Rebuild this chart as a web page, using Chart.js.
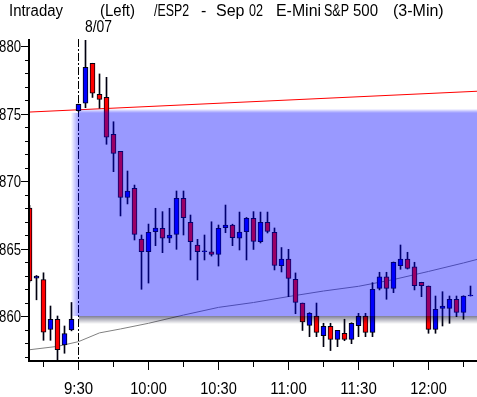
<!DOCTYPE html>
<html>
<head>
<meta charset="utf-8">
<script src="https://cdn.jsdelivr.net/npm/chart.js@4.4.1/dist/chart.umd.min.js"></script>
<style>
  html, body { margin: 0; padding: 0; background: #fff; }
  canvas { display: block; }
</style>
</head>
<body>
<canvas id="chart" width="477" height="397"></canvas>
<script>
// 3-minute bars (pre-open bars first, then the 8/07 session from 9:30)
const times = [
  '9:09', '9:12', '9:15', '9:18', '9:21', '9:24', '9:27',
  '9:30', '9:33', '9:36', '9:39', '9:42', '9:45', '9:48', '9:51', '9:54', '9:57',
  '10:00', '10:03', '10:06', '10:09', '10:12', '10:15', '10:18', '10:21', '10:24', '10:27',
  '10:30', '10:33', '10:36', '10:39', '10:42', '10:45', '10:48', '10:51', '10:54', '10:57',
  '11:00', '11:03', '11:06', '11:09', '11:12', '11:15', '11:18', '11:21', '11:24', '11:27',
  '11:30', '11:33', '11:36', '11:39', '11:42', '11:45', '11:48', '11:51', '11:54', '11:57',
  '12:00', '12:03', '12:06', '12:09', '12:12', '12:15', '12:18'
];
const opens = [
  868.0, 862.8, 862.7, 859.0, 859.75, 857.85, 858.96,
  875.21, 875.76, 878.72, 876.42, 876.2, 873.46, 872.19, 868.78, 869.46, 865.7,
  864.76, 866.24, 866.5, 865.76, 866.05, 868.72, 866.94, 865.26, 864.76, 864.76,
  864.57, 866.54, 866.74, 865.76, 866.24, 867.24, 865.5, 866.94, 866.2, 863.73,
  864.22, 862.72, 860.96, 859.3, 860.0, 858.54, 859.24, 858.27, 858.72, 858.27,
  859.28, 860.0, 858.79, 862.05, 862.91, 862.05, 863.73, 864.22, 863.65, 862.5,
  862.22, 859.01, 860.57, 860.57, 861.24, 860.27, 861.48
];
const highs = [
  868.2, 863.0, 863.2, 860.74, 860.0, 859.26, 861.0,
  875.7, 880.5, 878.72, 877.93, 877.68, 874.39, 872.19, 870.74, 869.7, 866.0,
  866.81, 867.98, 867.73, 867.98, 869.26, 869.26, 867.48, 865.68, 866.0, 866.98,
  866.74, 868.22, 866.8, 867.7, 867.3, 867.73, 867.7, 867.7, 866.52, 865.07,
  864.94, 863.19, 860.96, 860.25, 860.96, 859.46, 859.46, 858.94, 859.76, 859.5,
  860.2, 860.2, 862.47, 863.24, 863.24, 864.0, 865.26, 864.72, 863.98, 862.5,
  862.22, 861.48, 861.8, 861.48, 861.48, 861.5, 862.22
];
const lows = [
  862.5, 861.2, 858.2, 858.2, 856.74, 857.24, 858.9,
  875.15, 875.43, 876.19, 875.39, 872.72, 870.69, 867.41, 868.3, 865.63, 861.98,
  862.44, 865.21, 864.69, 865.43, 864.94, 866.0, 864.15, 862.67, 864.15, 864.44,
  863.7, 866.17, 865.21, 864.89, 864.15, 864.93, 865.41, 866.15, 863.41, 863.26,
  861.43, 860.17, 858.93, 858.47, 858.47, 857.73, 857.44, 857.73, 858.17, 857.95,
  858.47, 858.47, 858.47, 861.93, 861.24, 861.73, 863.46, 863.48, 861.93, 861.43,
  858.72, 858.72, 859.26, 859.46, 859.95, 859.76, 861.48
];
const closes = [
  862.6, 862.95, 858.8, 859.75, 857.5, 858.7, 859.76,
  875.68, 878.42, 876.5, 876.05, 873.24, 872.05, 868.78, 869.26, 866.05, 864.76,
  866.19, 866.52, 865.76, 866.0, 868.72, 867.28, 865.5, 864.76, 864.76, 864.57,
  866.5, 866.74, 865.8, 866.22, 867.24, 865.53, 866.94, 866.26, 863.74, 864.22,
  862.79, 861.01, 859.56, 860.2, 858.79, 859.24, 858.27, 858.94, 858.27, 859.46,
  860.0, 858.79, 861.98, 862.91, 862.05, 863.98, 864.22, 863.53, 862.24, 862.24,
  859.01, 860.5, 860.74, 861.24, 860.27, 861.48, 861.48
];

// grey average line
const avgTimes = ['9:08', '9:21', '9:30', '9:39', '9:48', '10:00', '10:15', '10:30',
  '10:45', '11:00', '11:15', '11:30', '11:45', '12:00', '12:15', '12:21'];
const avgValues = [857.48, 857.75, 858.1, 858.75, 859.04, 859.46, 860.07, 860.64,
  861.0, 861.44, 861.85, 862.2, 862.7, 863.3, 863.93, 864.2];

// red trend line
const trendTimes = ['9:08', '12:21'];
const trendValues = [875.1, 876.65];

// shaded zone
const zoneStart = '9:28';
const zoneHigh = 875.05;
const zoneLow = 860.0;

// axes
const yTicks = [860, 865, 870, 875, 880];
const xTickLabels = ['9:30', '10:00', '10:30', '11:00', '11:30', '12:00'];
const xMinorTicks = ['9:15', '9:45', '10:15', '10:45', '11:15', '11:45', '12:15'];
const sessionOpen = '9:30';
const sessionDate = '8/07';

// header pieces: text, left x, width
const header = [
  ['Intraday', 9, 54], ['(Left)', 100, 35], ['/ESP2', 154, 35], ['-', 201, 10],
  ['Sep', 216, 29], ['02', 249, 14], ['E-Mini', 276, 45], ['S&P', 324, 25],
  ['500', 353, 25], ['(3-Min)', 393, 52]
];

const FONT = "16px 'Liberation Sans', Arimo, sans-serif";
const CHAR_W = 7.3; // the original labels use a narrow face

function toMin(s) {
  const [h, m] = s.split(':').map(Number);
  return h * 60 + m;
}

// Draw axes, header, zone and session marker
const overlay = {
  id: 'overlay',
  beforeDatasetsDraw(chart) {
    const { ctx, chartArea: a, scales: { x } } = chart;
    const px = Math.floor(x.getPixelForValue(toMin(sessionOpen))) + 0.5;
    ctx.save();
    ctx.strokeStyle = '#000';
    ctx.lineWidth = 1;
    ctx.setLineDash([8, 2, 2, 2]);
    ctx.beginPath();
    ctx.moveTo(px, a.top - 1);
    ctx.lineTo(px, a.bottom);
    ctx.stroke();
    ctx.restore();
  },
  afterDatasetsDraw(chart) {
    const { ctx, chartArea: a, scales: { x, y } } = chart;
    const x0 = x.getPixelForValue(toMin(zoneStart));
    const xs = x0 + 5;
    const yt = y.getPixelForValue(zoneHigh);
    const yb = Math.round(y.getPixelForValue(zoneLow));
    const fade = 4;
    ctx.save();
    ctx.beginPath();
    ctx.rect(a.left, a.top, a.right - a.left, a.bottom - a.top);
    ctx.clip();
    const blue = 'rgba(0,0,255,0.4)';
    // solid part
    ctx.fillStyle = blue;
    ctx.fillRect(xs, yt, a.right - xs, yb - yt);
    // soft left edge
    let g = ctx.createLinearGradient(x0 - 3, 0, xs, 0);
    g.addColorStop(0, 'rgba(0,0,255,0)');
    g.addColorStop(1, blue);
    ctx.fillStyle = g;
    ctx.fillRect(x0 - 3, yt, xs - x0 + 3, yb - yt);
    // soft top edge
    g = ctx.createLinearGradient(0, yt - fade, 0, yt);
    g.addColorStop(0, 'rgba(0,0,255,0)');
    g.addColorStop(1, blue);
    ctx.fillStyle = g;
    ctx.fillRect(xs, yt - fade, a.right - xs, fade);
    // shadow under the zone
    g = ctx.createLinearGradient(0, yb, 0, yb + 8);
    g.addColorStop(0, 'rgba(0,0,40,0.5)');
    g.addColorStop(1, 'rgba(0,0,40,0)');
    ctx.fillStyle = g;
    ctx.fillRect(xs, yb, a.right - xs, 8);
    ctx.restore();
  },
  afterDraw(chart) {
    const { ctx, chartArea: a, scales: { x, y } } = chart;
    ctx.save();
    ctx.fillStyle = '#000';
    ctx.strokeStyle = '#000';
    ctx.lineWidth = 1;
    // axis lines
    ctx.fillRect(a.left - 2, a.top - 1, 2, a.bottom - a.top + 3);
    ctx.fillRect(a.left - 2, a.bottom, a.right - a.left + 2, 2);

    ctx.font = FONT;
    // y ticks, one per point, labels every 5
    ctx.textAlign = 'right';
    ctx.textBaseline = 'middle';
    for (let v = Math.ceil(y.min); v <= Math.floor(y.max); v++) {
      const py = Math.round(y.getPixelForValue(v)) + 0.5;
      const major = yTicks.includes(v);
      ctx.beginPath();
      ctx.moveTo(major ? a.left - 9 : a.left - 5, py);
      ctx.lineTo(a.left - 2, py);
      ctx.stroke();
      if (major) {
        const s = String(v);
        ctx.fillText(s, a.left - 9, py + 1, s.length * CHAR_W);
      }
    }

    // x ticks
    ctx.textAlign = 'center';
    ctx.textBaseline = 'alphabetic';
    xMinorTicks.forEach(t => {
      const px = Math.floor(x.getPixelForValue(toMin(t))) + 0.5;
      if (px < a.left || px > a.right) return;
      ctx.beginPath();
      ctx.moveTo(px, a.bottom + 2);
      ctx.lineTo(px, a.bottom + 7);
      ctx.stroke();
    });
    xTickLabels.forEach(t => {
      const px = Math.floor(x.getPixelForValue(toMin(t))) + 0.5;
      ctx.beginPath();
      ctx.moveTo(px, a.bottom + 2);
      ctx.lineTo(px, a.bottom + 10);
      ctx.stroke();
      ctx.fillText(t, px, a.bottom + 34, t.length * CHAR_W);
    });

    // header
    ctx.textAlign = 'left';
    header.forEach(([txt, hx, w]) => ctx.fillText(txt, hx, 16, w));
    ctx.fillText(sessionDate, x.getPixelForValue(toMin(sessionOpen)) + 6.5, 32, 27);
    ctx.restore();
  }
};

document.addEventListener('DOMContentLoaded', () => {
  const ctx = document.getElementById('chart').getContext('2d');
  new Chart(ctx, {
    type: 'bar',
    data: {
      datasets: [{
        type: 'line',
        data: avgTimes.map((t, i) => ({ x: toMin(t), y: avgValues[i] })),
        borderColor: '#808080',
        borderWidth: 1,
        pointRadius: 0,
        tension: 0,
        clip: 0,
        order: 4
      }, {
        type: 'line',
        data: trendTimes.map((t, i) => ({ x: toMin(t), y: trendValues[i] })),
        borderColor: '#ff0000',
        borderWidth: 1,
        pointRadius: 0,
        clip: 0,
        order: 3
      }, {
        // wicks
        data: times.map((t, i) => ({ x: toMin(t), y: [lows[i], highs[i]] })),
        backgroundColor: '#000010',
        borderWidth: 0,
        barThickness: 1,
        grouped: false,
        clip: 0,
        order: 2
      }, {
        // bodies
        data: times.map((t, i) => ({ x: toMin(t), y: [opens[i], closes[i]] })),
        backgroundColor: times.map((t, i) => closes[i] >= opens[i] ? '#0000ff' : '#ff0000'),
        borderColor: '#000010',
        borderWidth: 1,
        borderSkipped: false,
        barThickness: 5,
        minBarLength: 1,
        grouped: false,
        clip: 0,
        order: 1
      }]
    },
    options: {
      responsive: false,
      animation: false,
      events: [],
      layout: { padding: { left: 30, top: 40, right: 0, bottom: 37 } },
      plugins: { legend: { display: false }, tooltip: { enabled: false } },
      scales: {
        x: {
          type: 'linear',
          display: false,
          offset: false,
          min: 570 - 48.5 * 3 / 7,
          max: 570 - 48.5 * 3 / 7 + 447 * 3 / 7
        },
        y: {
          type: 'linear',
          display: false,
          min: 880 + 6 / 13.5 - 320 / 13.5,
          max: 880 + 6 / 13.5
        }
      }
    },
    plugins: [overlay]
  });
});
</script>
</body>
</html>
